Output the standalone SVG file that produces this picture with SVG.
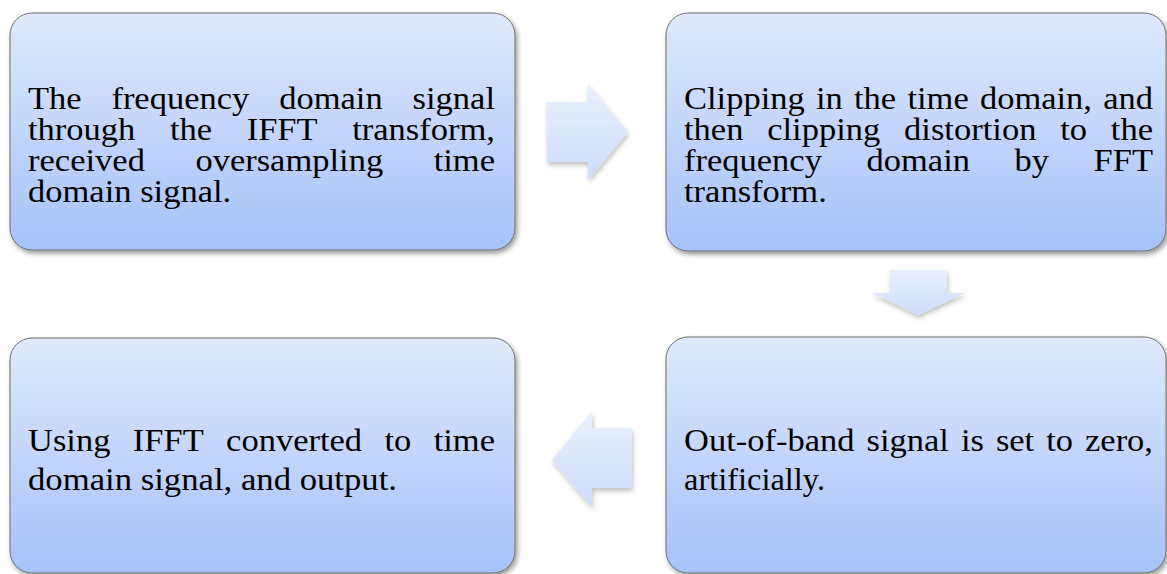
<svg xmlns="http://www.w3.org/2000/svg" width="1167" height="574" viewBox="0 0 1167 574">
  <defs>
    <linearGradient id="boxGrad" x1="0" y1="0" x2="0" y2="1">
      <stop offset="0" stop-color="#e0e9fc"/>
      <stop offset="1" stop-color="#a5c2fa"/>
    </linearGradient>
    <linearGradient id="arrGrad" x1="0" y1="0" x2="0" y2="1">
      <stop offset="0" stop-color="#eaf0fd"/>
      <stop offset="1" stop-color="#cddcfb"/>
    </linearGradient>
    <filter id="shadow" x="-10%" y="-10%" width="125%" height="130%">
      <feDropShadow dx="2" dy="3" stdDeviation="2.5" flood-color="#000" flood-opacity="0.4"/>
    </filter>
    <filter id="ashadow" x="-20%" y="-20%" width="150%" height="150%">
      <feDropShadow dx="1" dy="3" stdDeviation="2.5" flood-color="#000" flood-opacity="0.25"/>
    </filter>
  </defs>
  <style>
    .box { fill: url(#boxGrad); stroke: #6e6e6e; stroke-width: 1; filter: url(#shadow); }
    .arrow { fill: url(#arrGrad); stroke: none; filter: url(#ashadow); }
    .t { font-family: "Liberation Serif", "Times New Roman", serif; font-size: 32px; fill: #000; }
  </style>
  <rect width="1167" height="574" fill="#ffffff"/>

  <g id="connectors">
    <path class="arrow" d="M547,102 L588,102 L588,84 L628,132 L588,180 L588,162 L547,162 Z"/>
    <path class="arrow" d="M890,270 L947,270 L947,293 L965,293 L918,315 L872,293 L890,293 Z"/>
    <path class="arrow" d="M632,428 L592,428 L592,411 L552,460 L592,507 L592,488 L632,488 Z"/>
  </g>

  <g id="node1">
    <rect class="box" x="10" y="13" width="505" height="237" rx="22" ry="22"/>
    <text class="t" font-family="Liberation Serif, serif" x="28" y="109" textLength="53.6" lengthAdjust="spacingAndGlyphs">The</text>
    <text class="t" font-family="Liberation Serif, serif" x="111.4" y="109" textLength="137.9" lengthAdjust="spacingAndGlyphs">frequency</text>
    <text class="t" font-family="Liberation Serif, serif" x="279.2" y="109" textLength="103.5" lengthAdjust="spacingAndGlyphs">domain</text>
    <text class="t" font-family="Liberation Serif, serif" x="412.6" y="109" textLength="82.4" lengthAdjust="spacingAndGlyphs">signal</text>
    <text class="t" font-family="Liberation Serif, serif" x="28" y="140" textLength="107.3" lengthAdjust="spacingAndGlyphs">through</text>
    <text class="t" font-family="Liberation Serif, serif" x="169.9" y="140" textLength="42.2" lengthAdjust="spacingAndGlyphs">the</text>
    <text class="t" font-family="Liberation Serif, serif" x="246.7" y="140" textLength="70.9" lengthAdjust="spacingAndGlyphs">IFFT</text>
    <text class="t" font-family="Liberation Serif, serif" x="352.2" y="140" textLength="142.8" lengthAdjust="spacingAndGlyphs">transform,</text>
    <text class="t" font-family="Liberation Serif, serif" x="28" y="171" textLength="116.9" lengthAdjust="spacingAndGlyphs">received</text>
    <text class="t" font-family="Liberation Serif, serif" x="195.4" y="171" textLength="187.8" lengthAdjust="spacingAndGlyphs">oversampling</text>
    <text class="t" font-family="Liberation Serif, serif" x="433.7" y="171" textLength="61.3" lengthAdjust="spacingAndGlyphs">time</text>
    <text class="t" font-family="Liberation Serif, serif" x="28" y="202" textLength="203.2" lengthAdjust="spacingAndGlyphs">domain signal.</text>
  </g>

  <g id="node2">
    <rect class="box" x="666" y="13" width="500" height="238" rx="22" ry="22"/>
    <text class="t" font-family="Liberation Serif, serif" x="684" y="109" textLength="120.8" lengthAdjust="spacingAndGlyphs">Clipping</text>
    <text class="t" font-family="Liberation Serif, serif" x="816" y="109" textLength="26.8" lengthAdjust="spacingAndGlyphs">in</text>
    <text class="t" font-family="Liberation Serif, serif" x="854" y="109" textLength="42.2" lengthAdjust="spacingAndGlyphs">the</text>
    <text class="t" font-family="Liberation Serif, serif" x="907.4" y="109" textLength="61.3" lengthAdjust="spacingAndGlyphs">time</text>
    <text class="t" font-family="Liberation Serif, serif" x="979.9" y="109" textLength="112.1" lengthAdjust="spacingAndGlyphs">domain,</text>
    <text class="t" font-family="Liberation Serif, serif" x="1103.2" y="109" textLength="49.8" lengthAdjust="spacingAndGlyphs">and</text>
    <text class="t" font-family="Liberation Serif, serif" x="684" y="140" textLength="59.4" lengthAdjust="spacingAndGlyphs">then</text>
    <text class="t" font-family="Liberation Serif, serif" x="767.2" y="140" textLength="113.1" lengthAdjust="spacingAndGlyphs">clipping</text>
    <text class="t" font-family="Liberation Serif, serif" x="904.1" y="140" textLength="132.3" lengthAdjust="spacingAndGlyphs">distortion</text>
    <text class="t" font-family="Liberation Serif, serif" x="1060.2" y="140" textLength="26.8" lengthAdjust="spacingAndGlyphs">to</text>
    <text class="t" font-family="Liberation Serif, serif" x="1110.8" y="140" textLength="42.2" lengthAdjust="spacingAndGlyphs">the</text>
    <text class="t" font-family="Liberation Serif, serif" x="684" y="171" textLength="137.9" lengthAdjust="spacingAndGlyphs">frequency</text>
    <text class="t" font-family="Liberation Serif, serif" x="866.5" y="171" textLength="103.5" lengthAdjust="spacingAndGlyphs">domain</text>
    <text class="t" font-family="Liberation Serif, serif" x="1014.6" y="171" textLength="34.5" lengthAdjust="spacingAndGlyphs">by</text>
    <text class="t" font-family="Liberation Serif, serif" x="1093.6" y="171" textLength="59.4" lengthAdjust="spacingAndGlyphs">FFT</text>
    <text class="t" font-family="Liberation Serif, serif" x="684" y="202" textLength="142.8" lengthAdjust="spacingAndGlyphs">transform.</text>
  </g>

  <g id="node3">
    <rect class="box" x="10" y="338" width="505" height="235" rx="22" ry="22"/>
    <text class="t" font-family="Liberation Serif, serif" x="28" y="451" textLength="82.4" lengthAdjust="spacingAndGlyphs">Using</text>
    <text class="t" font-family="Liberation Serif, serif" x="132.8" y="451" textLength="70.9" lengthAdjust="spacingAndGlyphs">IFFT</text>
    <text class="t" font-family="Liberation Serif, serif" x="226.1" y="451" textLength="136" lengthAdjust="spacingAndGlyphs">converted</text>
    <text class="t" font-family="Liberation Serif, serif" x="384.5" y="451" textLength="26.8" lengthAdjust="spacingAndGlyphs">to</text>
    <text class="t" font-family="Liberation Serif, serif" x="433.7" y="451" textLength="61.3" lengthAdjust="spacingAndGlyphs">time</text>
    <text class="t" font-family="Liberation Serif, serif" x="28" y="490" textLength="369" lengthAdjust="spacingAndGlyphs">domain signal, and output.</text>
  </g>

  <g id="node4">
    <rect class="box" x="666" y="337" width="500" height="236" rx="22" ry="22"/>
    <text class="t" font-family="Liberation Serif, serif" x="684" y="451" textLength="170.5" lengthAdjust="spacingAndGlyphs">Out-of-band</text>
    <text class="t" font-family="Liberation Serif, serif" x="866.5" y="451" textLength="82.4" lengthAdjust="spacingAndGlyphs">signal</text>
    <text class="t" font-family="Liberation Serif, serif" x="960.9" y="451" textLength="23" lengthAdjust="spacingAndGlyphs">is</text>
    <text class="t" font-family="Liberation Serif, serif" x="995.9" y="451" textLength="38.3" lengthAdjust="spacingAndGlyphs">set</text>
    <text class="t" font-family="Liberation Serif, serif" x="1046.2" y="451" textLength="26.8" lengthAdjust="spacingAndGlyphs">to</text>
    <text class="t" font-family="Liberation Serif, serif" x="1085" y="451" textLength="68" lengthAdjust="spacingAndGlyphs">zero,</text>
    <text class="t" font-family="Liberation Serif, serif" x="684" y="490" textLength="141" lengthAdjust="spacingAndGlyphs">artificially.</text>
  </g>
</svg>
